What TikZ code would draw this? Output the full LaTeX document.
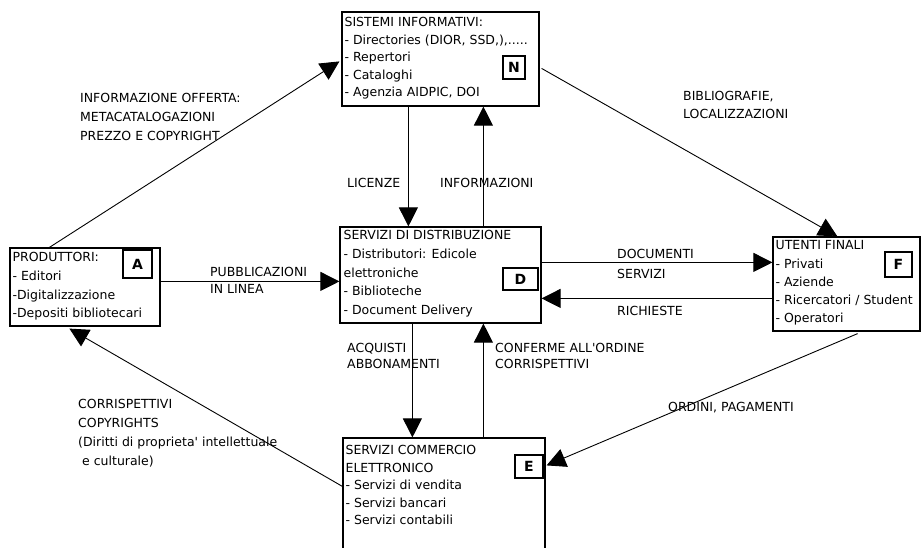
\documentclass[tikz,border=0pt]{standalone}
\usepackage{fontspec}
\setmainfont{DejaVu Sans}
\usepackage{tikz}
\usetikzlibrary{positioning}
\usetikzlibrary{calc}
\usetikzlibrary{arrows.meta}
\tikzstyle{boite}=[draw,rectangle,line width=1.2pt,inner sep=0pt]
\tikzstyle{lettre}=[draw,rectangle,line width=1.4pt,inner sep=0pt,
font=\fontsize{14}{14}\selectfont\bfseries]
\tikzstyle{fleche}=[-{Triangle[length=19pt,width=19pt]},line width=0.9pt]
\tikzset{texte/.style={anchor=north west,inner sep=0pt,align=left,
font=\fontsize{12.5}{#1}\selectfont},texte/.default=18}

\begin{document}
\begin{tikzpicture}[x=1pt,y=-1pt]
\clip (0,0) rectangle (923,547);
\node[boite,minimum width=197pt,minimum height=94pt] (boxN) at (440.5,59) {};
\node[boite,minimum width=150pt,minimum height=78pt] (boxA) at (85,287) {};
\node[boite,minimum width=201pt,minimum height=96pt] (boxD) at (440.5,275) {};
\node[boite,minimum width=147pt,minimum height=94pt] (boxF) at (846.5,284) {};
\node[boite,minimum width=202pt,minimum height=162pt] (boxE) at (444,519) {};
\node[texte=17.5] (txtN) at ($(boxN.north west)+(3,6)$) {SISTEMI INFORMATIVI:\\- Directories (DIOR, SSD,),.....\\- Repertori\\- Cataloghi\\- Agenzia AIDPIC, DOI};
\node[texte=18.7] (txtA) at ($(boxA.north west)+(3,5)$) {PRODUTTORI:\\- Editori\\-Digitalizzazione\\-Depositi bibliotecari};
\node[texte=18.7] (txtD) at ($(boxD.north west)+(4,4)$) {SERVIZI DI DISTRIBUZIONE\\- Distributori: Edicole\\elettroniche\\- Biblioteche\\- Document Delivery};
\node[texte=18.3] (txtF) at ($(boxF.north west)+(3,4)$) {UTENTI FINALI\\- Privati\\- Aziende\\- Ricercatori / Student\\- Operatori};
\node[texte=17.5] (txtE) at ($(boxE.north west)+(3,8)$) {SERVIZI COMMERCIO\\ELETTRONICO\\- Servizi di vendita\\- Servizi bancari\\- Servizi contabili};
\node[lettre,minimum width=22pt,minimum height=23pt] (lN) at (514,67.5) {N};
\node[lettre,minimum width=29pt,minimum height=28pt] (lA) at (137.5,264) {A};
\node[lettre,minimum width=35pt,minimum height=22pt] (lD) at (520.5,279) {D};
\node[lettre,minimum width=27pt,minimum height=25pt] (lF) at (898.5,264.5) {F};
\node[lettre,minimum width=28pt,minimum height=23pt] (lE) at (529,466.5) {E};
%etichette
\node[texte=19] (lblOfferta) at (80,93) {INFORMAZIONE OFFERTA:\\METACATALOGAZIONI\\PREZZO E COPYRIGHT};
\node[texte] (lblBiblio) at (683,91) {BIBLIOGRAFIE,\\LOCALIZZAZIONI};
\node[texte] (lblLicenze) at (347,178) {LICENZE};
\node[texte] (lblInfo) at (440,178) {INFORMAZIONI};
\node[texte=17] (lblPubbl) at (210,267) {PUBBLICAZIONI\\IN LINEA};
\node[texte=20] (lblDoc) at (617,249) {DOCUMENTI\\SERVIZI};
\node[texte] (lblRich) at (617,306) {RICHIESTE};
\node[texte=16.5] (lblAcq) at (347,343) {ACQUISTI\\ABBONAMENTI};
\node[texte=16.5] (lblConf) at (495,343) {CONFERME ALL\textquotesingle ORDINE\\CORRISPETTIVI};
\node[texte] (lblOrdini) at (668,402) {ORDINI, PAGAMENTI};
\node[texte=19] (lblCorr) at (78,399) {CORRISPETTIVI\\COPYRIGHTS\\(Diritti di proprieta\textquotesingle{} intellettuale\\\ e culturale)};
%frecce
\draw[fleche] ($(boxA.north west)+(40,0)$) -- ($(boxN.north west)+(-2,50)$);
\draw[fleche] ($(boxN.north east)+(2,57)$) -- ($(boxF.north west)+(65,0)$);
\draw[fleche] ($(boxN.south west)+(67,0)$) -- ($(boxD.north west)+(69,0)$);
\draw[fleche] ($(boxD.north west)+(144,0)$) -- ($(boxN.south west)+(142,0)$);
\draw[fleche] ($(boxA.north east)+(0,34)$) -- ($(boxD.north west)+(0,55)$);
\draw[fleche] ($(boxD.north east)+(0,36)$) -- ($(boxF.north west)+(0,26)$);
\draw[fleche] ($(boxF.north west)+(0,62)$) -- ($(boxD.north east)+(0,72)$);
\draw[fleche] ($(boxD.south west)+(73,0)$) -- ($(boxE.north west)+(70,0)$);
\draw[fleche] ($(boxE.north west)+(141,0)$) -- ($(boxD.south west)+(144,0)$);
\draw[fleche] ($(boxE.north west)+(0,49)$) -- ($(boxA.south west)+(60,2)$);
\draw[fleche] ($(boxF.south east)+(-63,2)$) -- ($(boxE.north east)+(1,28)$);
\end{tikzpicture}
\end{document}
